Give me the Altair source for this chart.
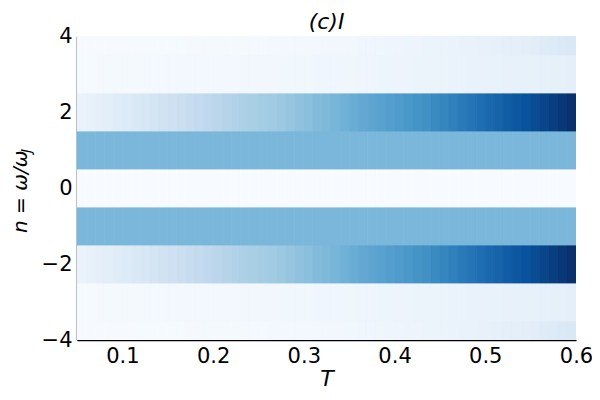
import altair as alt
import pandas as pd

# Column starts of T (each column spans 0.01)
T_START = [0.05, 0.06, 0.07, 0.08, 0.09, 0.10, 0.11, 0.12, 0.13, 0.14,
           0.15, 0.16, 0.17, 0.18, 0.19, 0.20, 0.21, 0.22, 0.23, 0.24,
           0.25, 0.26, 0.27, 0.28, 0.29, 0.30, 0.31, 0.32, 0.33, 0.34,
           0.35, 0.36, 0.37, 0.38, 0.39, 0.40, 0.41, 0.42, 0.43, 0.44,
           0.45, 0.46, 0.47, 0.48, 0.49, 0.50, 0.51, 0.52, 0.53, 0.54,
           0.55, 0.56, 0.57, 0.58, 0.59]
T_STEP = 0.01

N_VALUES = [-4, -3, -2, -1, 0, 1, 2, 3, 4]

I_N0 = [0.0] * 55
I_N1 = [0.46] * 55
I_N2 = [0.065, 0.08, 0.09, 0.105, 0.12, 0.13, 0.145, 0.16, 0.18, 0.195, 0.21,
        0.23, 0.24, 0.255, 0.27, 0.285, 0.30, 0.315, 0.33, 0.34, 0.355, 0.37,
        0.38, 0.395, 0.41, 0.425, 0.44, 0.45, 0.47, 0.485, 0.505, 0.525, 0.54,
        0.555, 0.57, 0.585, 0.60, 0.615, 0.63, 0.65, 0.675, 0.695, 0.715,
        0.74, 0.76, 0.785, 0.805, 0.83, 0.85, 0.87, 0.895, 0.92, 0.945, 0.97, 0.995]
I_N3 = [0.010, 0.011, 0.012, 0.013, 0.014, 0.015, 0.016, 0.017, 0.018, 0.019, 0.020,
        0.021, 0.022, 0.023, 0.024, 0.025, 0.026, 0.027, 0.028, 0.029, 0.030, 0.031,
        0.032, 0.033, 0.034, 0.035, 0.036, 0.037, 0.038, 0.040, 0.042, 0.044, 0.046,
        0.048, 0.050, 0.052, 0.054, 0.056, 0.058, 0.060, 0.062, 0.064, 0.066, 0.068,
        0.070, 0.072, 0.074, 0.076, 0.078, 0.080, 0.082, 0.084, 0.086, 0.088, 0.090]
I_N4 = [0.004, 0.004, 0.005, 0.005, 0.006, 0.006, 0.007, 0.008, 0.008, 0.009, 0.010,
        0.011, 0.012, 0.012, 0.013, 0.014, 0.015, 0.016, 0.017, 0.018, 0.019, 0.020,
        0.021, 0.022, 0.024, 0.025, 0.026, 0.028, 0.030, 0.032, 0.034, 0.036, 0.038,
        0.040, 0.043, 0.046, 0.049, 0.052, 0.055, 0.058, 0.061, 0.064, 0.068, 0.072,
        0.076, 0.080, 0.085, 0.090, 0.095, 0.100, 0.106, 0.120, 0.130, 0.140, 0.150]

ROWS = {-4: I_N4, -3: I_N3, -2: I_N2, -1: I_N1, 0: I_N0,
        1: I_N1, 2: I_N2, 3: I_N3, 4: I_N4}

BLUES = ["#f7fbff", "#deebf7", "#c6dbef", "#9ecae1", "#6baed6",
         "#4292c6", "#2171b5", "#08519c", "#08306b"]
BLUES_DOMAIN = [0.0, 0.125, 0.25, 0.375, 0.5, 0.625, 0.75, 0.875, 1.0]

records = []
for n in N_VALUES:
    for t, v in zip(T_START, ROWS[n]):
        records.append({"t0": t, "t1": round(t + T_STEP, 4),
                        "n0": n - 0.5, "n1": n + 0.5, "I": v})
df = pd.DataFrame(records)

FONT = "DejaVu Sans"
cscale = alt.Scale(domain=BLUES_DOMAIN, range=BLUES, interpolate="rgb")

heat = alt.Chart(df).mark_rect(clip=True, strokeWidth=0.8).encode(
    x=alt.X("t0:Q", scale=alt.Scale(domain=[0.05, 0.6], nice=False, zero=False),
            axis=alt.Axis(values=[0.1, 0.2, 0.3, 0.4, 0.5, 0.6], format=".1f",
                          title="T", titleFontStyle="italic", titleFontWeight="normal",
                          titleFontSize=22, titlePadding=2)),
    x2="t1:Q",
    y=alt.Y("n0:Q", scale=alt.Scale(domain=[-4, 4], nice=False, zero=False),
            axis=alt.Axis(values=[-4, -2, 0, 2, 4], format="d", title=None)),
    y2="n1:Q",
    color=alt.Color("I:Q", scale=cscale, legend=None),
    stroke=alt.Stroke("I:Q", scale=cscale, legend=None),
)

ytitle_main = alt.Chart(pd.DataFrame({"t": ["n = ω/ω"]})).mark_text(
    angle=270, align="left", baseline="middle", font=FONT, fontSize=20,
    fontStyle="italic", color="black"
).encode(x=alt.value(-56), y=alt.value(197), text="t:N")

ytitle_sub = alt.Chart(pd.DataFrame({"t": ["J"]})).mark_text(
    angle=270, align="left", baseline="middle", font=FONT, fontSize=14,
    fontStyle="italic", color="black"
).encode(x=alt.value(-50), y=alt.value(117), text="t:N")

chart = alt.layer(heat, ytitle_main, ytitle_sub).properties(
    width=499, height=304,
    title=alt.TitleParams("(c)I", font=FONT, fontSize=22, fontStyle="italic",
                          fontWeight="normal", color="black", offset=-9),
    autosize=alt.AutoSizeParams(type="none"),
    padding={"left": 69, "top": 28, "right": 16, "bottom": 52},
).configure_view(stroke=None).configure_axis(
    labelFont=FONT, labelFontSize=21, labelColor="black", titleFont=FONT,
    titleColor="black", domainColor="black", domainWidth=1.5, ticks=False,
    grid=False, labelFlush=False, labelPadding=5, labelOverlap=False,
)

chart.save("out.html", embed_options={"renderer": "svg", "actions": False})
